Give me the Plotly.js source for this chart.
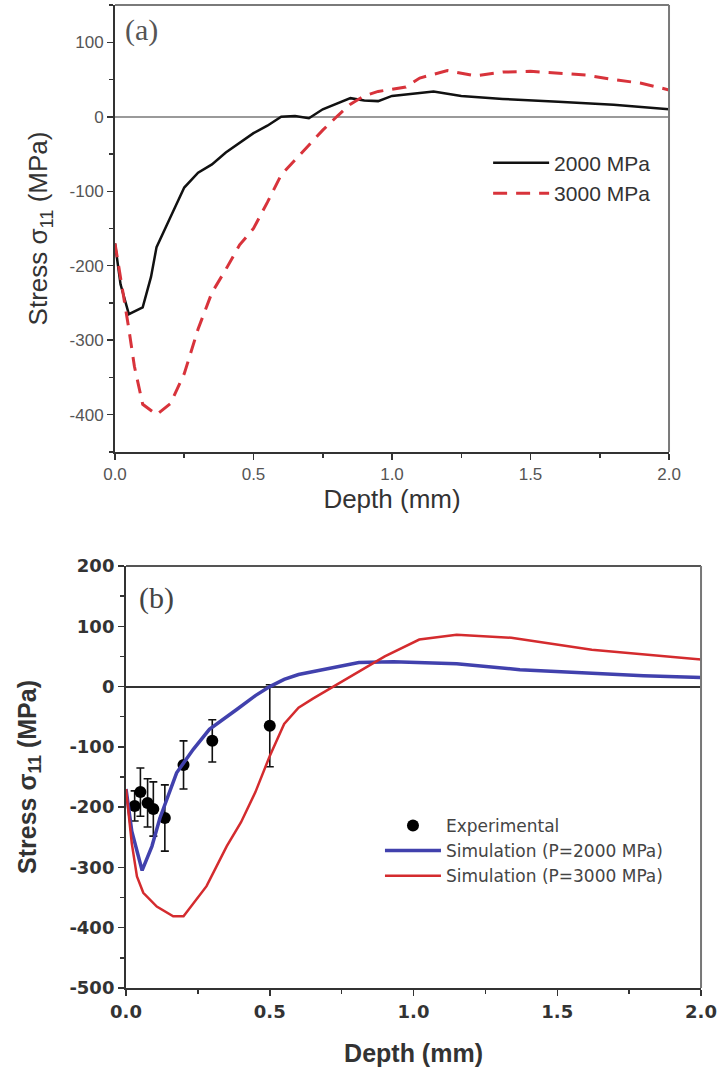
<!DOCTYPE html>
<html>
<head>
<meta charset="utf-8">
<script src="https://cdn.plot.ly/plotly-3.0.1.min.js"></script>
<style>html,body{margin:0;padding:0;background:#fff;}#chart{width:721px;height:1073px;}</style>
</head>
<body>
<div id="chart"></div>
<script>
// ---- Panel (a) data ----
var depthA2000 = [0, 0.02, 0.05, 0.1, 0.13, 0.15, 0.2, 0.25, 0.3, 0.35, 0.4, 0.45, 0.5, 0.55, 0.6, 0.65, 0.7, 0.75, 0.8, 0.85, 0.9, 0.95, 1.0, 1.1, 1.15, 1.25, 1.4, 1.6, 1.8, 2.0];
var stressA2000 = [-170, -225, -265, -256, -215, -175, -135, -95, -75, -64, -48, -35, -22, -12, 0, 1, -2, 10, 18, 25, 22, 21, 28, 32, 34, 28, 24, 20, 16, 10];
var depthA3000 = [0, 0.02, 0.05, 0.07, 0.1, 0.15, 0.2, 0.25, 0.3, 0.35, 0.4, 0.45, 0.5, 0.55, 0.6, 0.65, 0.7, 0.75, 0.8, 0.85, 0.9, 0.95, 1.0, 1.05, 1.1, 1.2, 1.3, 1.4, 1.5, 1.6, 1.7, 1.8, 1.9, 2.0];
var stressA3000 = [-170, -215, -285, -335, -386, -400, -385, -345, -285, -236, -205, -172, -150, -115, -78, -58, -38, -18, 0, 17, 28, 34, 37, 40, 52, 62, 55, 60, 61, 58, 56, 50, 45, 36];
var legendA = ["2000 MPa", "3000 MPa"];

// ---- Panel (b) data ----
var depthB2000 = [0, 0.02, 0.056, 0.09, 0.118, 0.176, 0.234, 0.29, 0.385, 0.45, 0.5, 0.55, 0.6, 0.72, 0.81, 0.93, 1.15, 1.37, 1.62, 1.8, 2.0];
var stressB2000 = [-170, -240, -305, -265, -218, -143, -104, -71, -38, -15, 0, 12, 20, 31, 40, 41, 38, 28, 22, 18, 15];
var depthB3000 = [0, 0.02, 0.038, 0.06, 0.107, 0.164, 0.2, 0.28, 0.35, 0.4, 0.45, 0.5, 0.55, 0.6, 0.65, 0.72, 0.81, 0.9, 1.02, 1.15, 1.34, 1.62, 2.0];
var stressB3000 = [-170, -260, -315, -342, -365, -381, -381, -331, -265, -225, -175, -115, -62, -35, -20, 0, 25, 50, 78, 86, 81, 61, 45];
var depthExp = [0.03, 0.05, 0.075, 0.095, 0.135, 0.2, 0.3, 0.5];
var stressExp = [-198, -175, -193, -203, -218, -130, -90, -65];
var errExp = [25, 40, 40, 45, 55, 40, 35, 68];
var legendB = ["Experimental", "Simulation (P=2000 MPa)", "Simulation (P=3000 MPa)"];

// ---- tick labels ----
var tickValsX = [0, 0.5, 1.0, 1.5, 2.0];
var tickTextX = ["0.0", "0.5", "1.0", "1.5", "2.0"];
var tickValsYA = [-400, -300, -200, -100, 0, 100];
var tickTextYA = ["-400", "-300", "-200", "-100", "0", "100"];
var tickValsYB = [-500, -400, -300, -200, -100, 0, 100, 200];
var tickTextYB = ["-500", "-400", "-300", "-200", "-100", "0", "100", "200"];

var fA = "Liberation Sans, Arial, sans-serif";
var fB = "DejaVu Sans, sans-serif";

var traces = [
  {x: depthA2000, y: stressA2000, type: "scatter", mode: "lines", name: legendA[0],
   line: {color: "#111111", width: 2.5}, xaxis: "x", yaxis: "y", legend: "legend"},
  {x: depthA3000, y: stressA3000, type: "scatter", mode: "lines", name: legendA[1],
   line: {color: "#d8333b", width: 3, dash: "14px,9px"}, xaxis: "x", yaxis: "y", legend: "legend"},
  {x: depthExp, y: stressExp, type: "scatter", mode: "markers", name: legendB[0],
   marker: {color: "#000000", size: 12},
   error_y: {type: "data", array: errExp, visible: true, color: "#111", thickness: 1.6, width: 4},
   xaxis: "x2", yaxis: "y2", legend: "legend2"},
  {x: depthB2000, y: stressB2000, type: "scatter", mode: "lines", name: legendB[1],
   line: {color: "#4141ad", width: 3.5}, xaxis: "x2", yaxis: "y2", legend: "legend2"},
  {x: depthB3000, y: stressB3000, type: "scatter", mode: "lines", name: legendB[2],
   line: {color: "#d42b2e", width: 2.5}, xaxis: "x2", yaxis: "y2", legend: "legend2"}
];

function xax(domain, anchor, font, titleFont, standoff) {
  return {domain: domain, anchor: anchor, range: [0, 2], tickvals: tickValsX, ticktext: tickTextX,
    ticks: "outside", ticklen: 6, tickwidth: 1.5, tickcolor: "#333",
    minor: {tickvals: [0.25, 0.75, 1.25, 1.75], ticks: "outside", ticklen: 4, tickwidth: 1.5, tickcolor: "#333"},
    showline: true, linecolor: "#333", linewidth: 2, showgrid: false, zeroline: false,
    tickfont: font, title: {text: "Depth (mm)", font: titleFont, standoff: standoff}, automargin: false, fixedrange: true};
}
function yax(domain, anchor, range, tv, tt, zc, font, titleFont, standoff) {
  return {domain: domain, anchor: anchor, range: range, tickvals: tv, ticktext: tt,
    ticks: "outside", ticklen: 6, tickwidth: 1.5, tickcolor: "#333",
    minor: {dtick: 50, ticks: "outside", ticklen: 4, tickwidth: 1.5, tickcolor: "#333"},
    showline: true, linecolor: "#333", linewidth: 2, showgrid: false,
    zeroline: true, zerolinecolor: zc, zerolinewidth: 2,
    tickfont: font, title: {text: "Stress σ<sub>11</sub> (MPa)", font: titleFont, standoff: standoff}, automargin: false, fixedrange: true};
}

var layout = {
  width: 721, height: 1073,
  margin: {l: 0, r: 0, t: 0, b: 0},
  paper_bgcolor: "#ffffff", plot_bgcolor: "#ffffff",
  xaxis: xax([0.1595, 0.9279], "y", {family: fA, size: 17, color: "#555"}, {family: fA, size: 26, color: "#333"}, 0),
  yaxis: yax([0.5788, 0.9953], "x", [-450, 150], tickValsYA, tickTextYA, "#9a9a9a", {family: fA, size: 17, color: "#555"}, {family: fA, size: 26, color: "#333"}, 14),
  xaxis2: xax([0.1748, 0.9723], "y2", {family: fB, size: 18, color: "#333", weight: "bold"}, {family: fA, size: 25, color: "#333", weight: "bold"}, 24),
  yaxis2: yax([0.0792, 0.4725], "x2", [-500, 200], tickValsYB, tickTextYB, "#333333", {family: fB, size: 18, color: "#333", weight: "bold"}, {family: fA, size: 25, color: "#333", weight: "bold"}, 26),
  showlegend: true,
  legend: {x: 0.677, y: 0.867, xanchor: "left", yanchor: "top", bgcolor: "rgba(0,0,0,0)",
    font: {family: fA, size: 21, color: "#333"}, itemwidth: 56, tracegroupgap: 0},
  legend2: {x: 0.527, y: 0.247, xanchor: "left", yanchor: "top", bgcolor: "rgba(0,0,0,0)",
    font: {family: fB, size: 17, color: "#444"}, itemwidth: 56, tracegroupgap: 0},
  shapes: [
    {type: "line", xref: "x domain", yref: "y domain", x0: 0, x1: 1, y0: 1, y1: 1, line: {color: "#7a7a7a", width: 2}},
    {type: "line", xref: "x domain", yref: "y domain", x0: 1, x1: 1, y0: 0, y1: 1, line: {color: "#7a7a7a", width: 2}},
    {type: "line", xref: "x2 domain", yref: "y2 domain", x0: 0, x1: 1, y0: 1, y1: 1, line: {color: "#555", width: 2}},
    {type: "line", xref: "x2 domain", yref: "y2 domain", x0: 1, x1: 1, y0: 0, y1: 1, line: {color: "#777", width: 2}}
  ],
  annotations: [
    {text: "(a)", xref: "paper", yref: "paper", x: 0.17, y: 0.972, xanchor: "left", yanchor: "middle",
     showarrow: false, font: {family: "Liberation Serif, Times New Roman, serif", size: 30, color: "#555"}},
    {text: "(b)", xref: "paper", yref: "paper", x: 0.19, y: 0.4427, xanchor: "left", yanchor: "middle",
     showarrow: false, font: {family: "Liberation Serif, Times New Roman, serif", size: 30, color: "#444"}}
  ]
};

Plotly.newPlot("chart", traces, layout, {displayModeBar: false, staticPlot: true});
</script>
</body>
</html>
